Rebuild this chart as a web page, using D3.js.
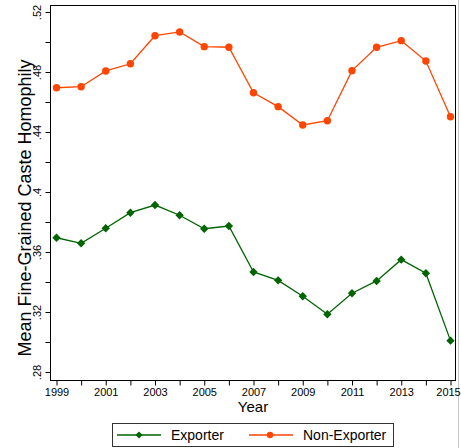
<!DOCTYPE html>
<html>
<head>
<meta charset="utf-8">
<script src="https://cdn.jsdelivr.net/npm/d3@7"></script>
<style>
  html, body { margin: 0; padding: 0; background: #fff; }
  svg { display: block; font-family: Arial, "Liberation Sans", Helvetica, sans-serif; }
</style>
</head>
<body>
<svg id="chart" width="461" height="448"></svg>
<script>
// Survey years
const years = [1999, 2000, 2001, 2002, 2003, 2004, 2005, 2006, 2007,
               2008, 2009, 2010, 2011, 2012, 2013, 2014, 2015];

// Mean fine-grained caste homophily by firm type
const exporter = [0.3695, 0.3658, 0.3758, 0.3862, 0.3913, 0.3845, 0.3755, 0.3773, 0.3467,
                  0.3411, 0.3305, 0.3185, 0.3325, 0.3407, 0.3549, 0.3458, 0.3009];
const nonExporter = [0.4695, 0.4702, 0.4807, 0.4855, 0.5042, 0.5067, 0.4969, 0.4965, 0.4662,
                     0.4569, 0.4447, 0.4475, 0.4809, 0.4965, 0.5009, 0.4873, 0.4502];

// Axis ticks
const yMajorTicks = [0.28, 0.32, 0.36, 0.40, 0.44, 0.48, 0.52];
const yTickLabels = [".28", ".32", ".36", ".4", ".44", ".48", ".52"];
const yMinorTicks = [0.30, 0.34, 0.38, 0.42, 0.46, 0.50];
const xTickLabels = ["1999", "2001", "2003", "2005", "2007", "2009", "2011", "2013", "2015"];

const seriesNames = ["Exporter", "Non-Exporter"];
const seriesColors = ["#006400", "#ff4500"];

const svg = d3.select("#chart");

// Plot frame
const frame = { left: 50, right: 455, top: 5, bottom: 380 };

const x = d3.scaleLinear().domain([1999, 2015]).range([56.5, 450.5]);
const y = d3.scaleLinear().domain([0.28, 0.52]).range([372, 12]);

// thin grey edge on the right of the graph area
svg.append("line")
  .attr("x1", 458.5).attr("x2", 458.5).attr("y1", 0).attr("y2", 448)
  .attr("stroke", "#c8c8c8").attr("stroke-width", 1);

svg.append("rect")
  .attr("x", frame.left + 0.5).attr("y", frame.top + 0.5)
  .attr("width", frame.right - frame.left).attr("height", frame.bottom - frame.top)
  .attr("fill", "#fff").attr("stroke", "#000").attr("stroke-width", 1);

// Y axis (major + minor ticks)
const yLabelMap = new Map(yMajorTicks.map((v, i) => [v, yTickLabels[i]]));
const yAxis = svg.append("g")
  .attr("transform", `translate(${frame.left + 0.5},0)`)
  .call(d3.axisLeft(y).tickValues(yMajorTicks).tickSize(5).tickPadding(3)
        .tickFormat(d => yLabelMap.get(d)));
yAxis.select(".domain").remove();
yAxis.selectAll("text")
  .attr("x", null).attr("dy", null)
  .attr("text-anchor", "middle")
  .attr("transform", "translate(-10,0) rotate(-90)")
  .attr("font-size", 11).attr("fill", "#000")
  .attr("font-family", "Arial, 'Liberation Sans', sans-serif");

const yMinor = svg.append("g")
  .attr("transform", `translate(${frame.left + 0.5},0)`)
  .call(d3.axisLeft(y).tickValues(yMinorTicks).tickSize(5).tickFormat(""));
yMinor.select(".domain").remove();

// X axis
const xLabelSet = new Set(xTickLabels);
const xAxis = svg.append("g")
  .attr("transform", `translate(0,${frame.bottom + 0.5})`)
  .call(d3.axisBottom(x).tickValues(years).tickSize(5).tickPadding(3)
        .tickFormat(d => xLabelSet.has(String(d)) ? String(d) : ""));
xAxis.select(".domain").remove();
xAxis.selectAll("text")
  .attr("font-size", 11).attr("fill", "#000")
  .attr("font-family", "Arial, 'Liberation Sans', sans-serif");
// keep the last year label inside the canvas
xAxis.selectAll("text").filter(d => d === 2015).attr("dx", -2.5);

svg.selectAll(".tick line").attr("stroke", "#000");

// Axis titles
svg.append("text")
  .attr("x", (frame.left + frame.right) / 2 + 0.5).attr("y", 412)
  .attr("text-anchor", "middle").attr("font-size", 15).attr("fill", "#000")
  .text("Year");

svg.append("text")
  .attr("transform", "translate(31,208) rotate(-90)")
  .attr("text-anchor", "middle").attr("font-size", 18).attr("fill", "#000")
  .text("Mean Fine-Grained Caste Homophily");

// Series
const diamond = r => `M0,${-r}L${r},0L0,${r}L${-r},0Z`;
const series = [exporter, nonExporter];
const line = d3.line().x((d, i) => x(years[i])).y(d => y(d));

series.forEach((vals, s) => {
  const g = svg.append("g");
  g.append("path")
    .attr("d", line(vals))
    .attr("fill", "none").attr("stroke", seriesColors[s]).attr("stroke-width", 1.3);
  if (s === 0) {
    g.selectAll("path.m").data(vals).join("path")
      .attr("class", "m")
      .attr("transform", (d, i) => `translate(${x(years[i])},${y(d)})`)
      .attr("d", diamond(4.2)).attr("fill", seriesColors[s]);
  } else {
    g.selectAll("circle").data(vals).join("circle")
      .attr("cx", (d, i) => x(years[i])).attr("cy", d => y(d))
      .attr("r", 3.7).attr("fill", seriesColors[s]);
  }
});

// Legend
const legend = svg.append("g");
legend.append("rect")
  .attr("x", 112.5).attr("y", 423.5).attr("width", 281).attr("height", 23)
  .attr("fill", "#fff").attr("stroke", "#333").attr("stroke-width", 1);

const legendItems = [
  { lx: 117, mx: 139, tx: 171 },
  { lx: 249, mx: 270, tx: 303 }
];
legendItems.forEach((it, s) => {
  legend.append("line")
    .attr("x1", it.lx).attr("x2", it.lx + 44).attr("y1", 435).attr("y2", 435)
    .attr("stroke", seriesColors[s]).attr("stroke-width", 1.3);
  if (s === 0) {
    legend.append("path").attr("transform", `translate(${it.mx},435)`)
      .attr("d", diamond(3.6)).attr("fill", seriesColors[s]);
  } else {
    legend.append("circle").attr("cx", it.mx).attr("cy", 435).attr("r", 3.2)
      .attr("fill", seriesColors[s]);
  }
  legend.append("text").attr("x", it.tx).attr("y", 440)
    .attr("font-size", 14).attr("fill", "#000").text(seriesNames[s]);
});
</script>
</body>
</html>
